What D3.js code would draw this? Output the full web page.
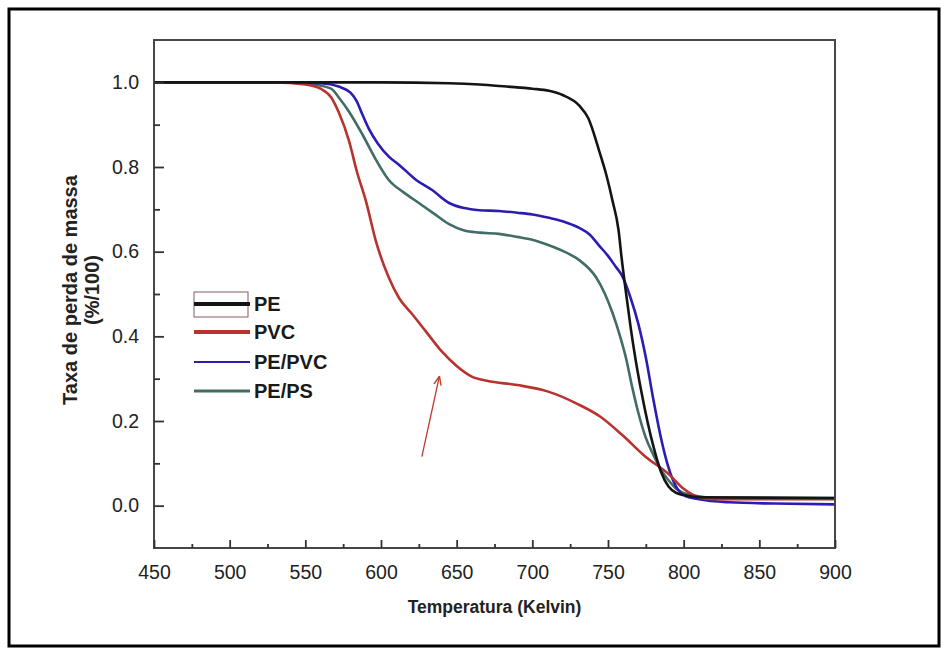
<!DOCTYPE html>
<html><head><meta charset="utf-8">
<script src="https://cdn.jsdelivr.net/npm/d3@7"></script>
<style>body{margin:0;background:#fff}svg{display:block}text{font-family:"Liberation Sans",Arial,sans-serif}</style>
</head><body>
<svg id="c" width="941" height="648"></svg>
<script>
const seriesNames = ["PE", "PVC", "PE/PVC", "PE/PS"];
const seriesColors = ["#141414", "#b8322f", "#2b1db3", "#416d66"];
const peT   = [450,600,645,665,683,700,711,720,731,737,744,749,753,757,759,762,765,768,772,776,780,785,790,795,800,810,900];
const peV   = [1.0,1.0,0.998,0.995,0.99,0.985,0.98,0.97,0.945,0.915,0.84,0.78,0.72,0.65,0.585,0.5,0.42,0.35,0.27,0.2,0.14,0.08,0.045,0.03,0.025,0.02,0.018];
const pvcT  = [450,530,550,560,567,572,579,584,590,597,605,612,620,630,640,650,660,670,690,710,730,745,760,775,790,800,810,820,900];
const pvcV  = [1.0,1.0,0.995,0.985,0.965,0.93,0.86,0.79,0.72,0.62,0.54,0.49,0.455,0.41,0.365,0.33,0.305,0.295,0.285,0.27,0.24,0.21,0.165,0.115,0.075,0.04,0.02,0.015,0.015];
const pepvcT = [450,540,560,572,580,584,587,592,598,605,612,623,634,645,655,665,678,690,700,711,720,731,738,744,750,755,759,765,770,775,780,785,790,795,800,810,830,860,900];
const pepvcV = [1.0,1.0,0.998,0.99,0.975,0.955,0.93,0.89,0.855,0.825,0.805,0.77,0.745,0.715,0.703,0.698,0.696,0.692,0.688,0.68,0.672,0.656,0.64,0.615,0.59,0.565,0.545,0.49,0.43,0.35,0.25,0.16,0.09,0.045,0.025,0.015,0.008,0.005,0.003];
const pepsT = [450,540,555,567,573,579,588,597,605,615,625,635,645,655,665,678,690,700,711,720,731,742,748,753,758,762,766,770,775,780,785,790,795,800,810,820,900];
const pepsV = [1.0,1.0,0.995,0.985,0.96,0.93,0.875,0.815,0.77,0.74,0.715,0.69,0.665,0.65,0.645,0.642,0.635,0.628,0.615,0.602,0.58,0.54,0.5,0.455,0.4,0.347,0.28,0.22,0.16,0.12,0.085,0.06,0.04,0.03,0.022,0.018,0.018];
const xTicks = [450,500,550,600,650,700,750,800,850,900];
const yTicks = [0.0,0.2,0.4,0.6,0.8,1.0];
const xMinor = [475,525,575,625,675,725,775,825,875];
const yMinor = [0.1,0.3,0.5,0.7,0.9];
const arrowFrom = [627, 0.116], arrowTo = [638.5, 0.304];

const svg = d3.select("#c");
const L=154, R=835, T=40, B=548;
const x = d3.scaleLinear().domain([450,900]).range([L,R]);
const y = d3.scaleLinear().domain([-0.1,1.1]).range([B,T]);

// outer border
svg.append("rect").attr("x",9).attr("y",9).attr("width",930).attr("height",637)
  .attr("fill","none").attr("stroke","#000").attr("stroke-width",3);

const data = [[peT,peV],[pvcT,pvcV],[pepvcT,pepvcV],[pepsT,pepsV]];
const line = d3.line().x(d=>x(d[0])).y(d=>y(d[1])).curve(d3.curveMonotoneX);
const plot = svg.append("g");
const order = [3,2,1,0];
order.forEach(i=>{
  const pts = data[i][0].map((t,k)=>[t,data[i][1][k]]);
  plot.append("path").attr("d",line(pts)).attr("fill","none")
    .attr("stroke",seriesColors[i]).attr("stroke-width",2.6).attr("stroke-linejoin","round");
});

// frame
svg.append("rect").attr("x",L).attr("y",T).attr("width",R-L).attr("height",B-T)
  .attr("fill","none").attr("stroke","#474747").attr("stroke-width",2);

// axes with inward ticks
const gx = svg.append("g").attr("transform",`translate(0,${B})`)
  .call(d3.axisBottom(x).tickValues(xTicks).tickSize(-8).tickPadding(17).tickFormat(d3.format("d")));
const gxm = svg.append("g").attr("transform",`translate(0,${B})`)
  .call(d3.axisBottom(x).tickValues(xMinor).tickSize(-4).tickFormat(""));
const gy = svg.append("g").attr("transform",`translate(${L},0)`)
  .call(d3.axisLeft(y).tickValues(yTicks).tickSize(-10).tickPadding(15).tickFormat(d3.format(".1f")));
const gym = svg.append("g").attr("transform",`translate(${L},0)`)
  .call(d3.axisLeft(y).tickValues(yMinor).tickSize(-6).tickFormat(""));
[gx,gxm,gy,gym].forEach(g=>{
  g.select(".domain").remove();
  g.selectAll(".tick line").attr("stroke","#333").attr("stroke-width",1.8);
  g.selectAll("text").attr("font-size",19.5).attr("fill","#222")
    .style("font-family","'Liberation Sans',Arial,sans-serif");
});

// axis titles
svg.append("text").attr("x",(L+R)/2).attr("y",613).attr("text-anchor","middle")
  .attr("font-size",17.5).attr("font-weight","bold").attr("fill","#222").text("Temperatura (Kelvin)");
const yl = svg.append("text").attr("transform","translate(77,290) rotate(-90)")
  .attr("text-anchor","middle").attr("font-size",20).attr("font-weight","bold").attr("fill","#222");
yl.append("tspan").attr("x",0).attr("dy",0).text("Taxa de perda de massa");
yl.append("tspan").attr("x",0).attr("dy",22).text("(%/100)");

// legend
const lg = svg.append("g");
const legY = [304,332,362,391];
const legW = [4,4,2,3];
lg.append("rect").attr("x",194).attr("y",292).attr("width",54).attr("height",25)
  .attr("fill","none").attr("stroke","#8a5a5a").attr("stroke-width",1);
seriesNames.forEach((n,i)=>{
  lg.append("line").attr("x1",194).attr("x2",250).attr("y1",legY[i]).attr("y2",legY[i])
    .attr("stroke",seriesColors[i]).attr("stroke-width",legW[i]);
  lg.append("text").attr("x",254).attr("y",legY[i]+7).attr("font-size",20)
    .attr("font-weight","bold").attr("fill","#1a1a1a").text(n);
});

// arrow annotation
svg.append("defs").append("marker").attr("id","ah").attr("viewBox","0 0 10 10")
  .attr("refX",9).attr("refY",5).attr("markerWidth",7).attr("markerHeight",7).attr("orient","auto")
  .append("path").attr("d","M0,1 L10,5 L0,9").attr("fill","none").attr("stroke","#c0392b").attr("stroke-width",1.5);
svg.append("line").attr("x1",x(arrowFrom[0])).attr("y1",y(arrowFrom[1]))
  .attr("x2",x(arrowTo[0])).attr("y2",y(arrowTo[1]))
  .attr("stroke","#c0392b").attr("stroke-width",1.3).attr("marker-end","url(#ah)");
</script>
</body></html>
